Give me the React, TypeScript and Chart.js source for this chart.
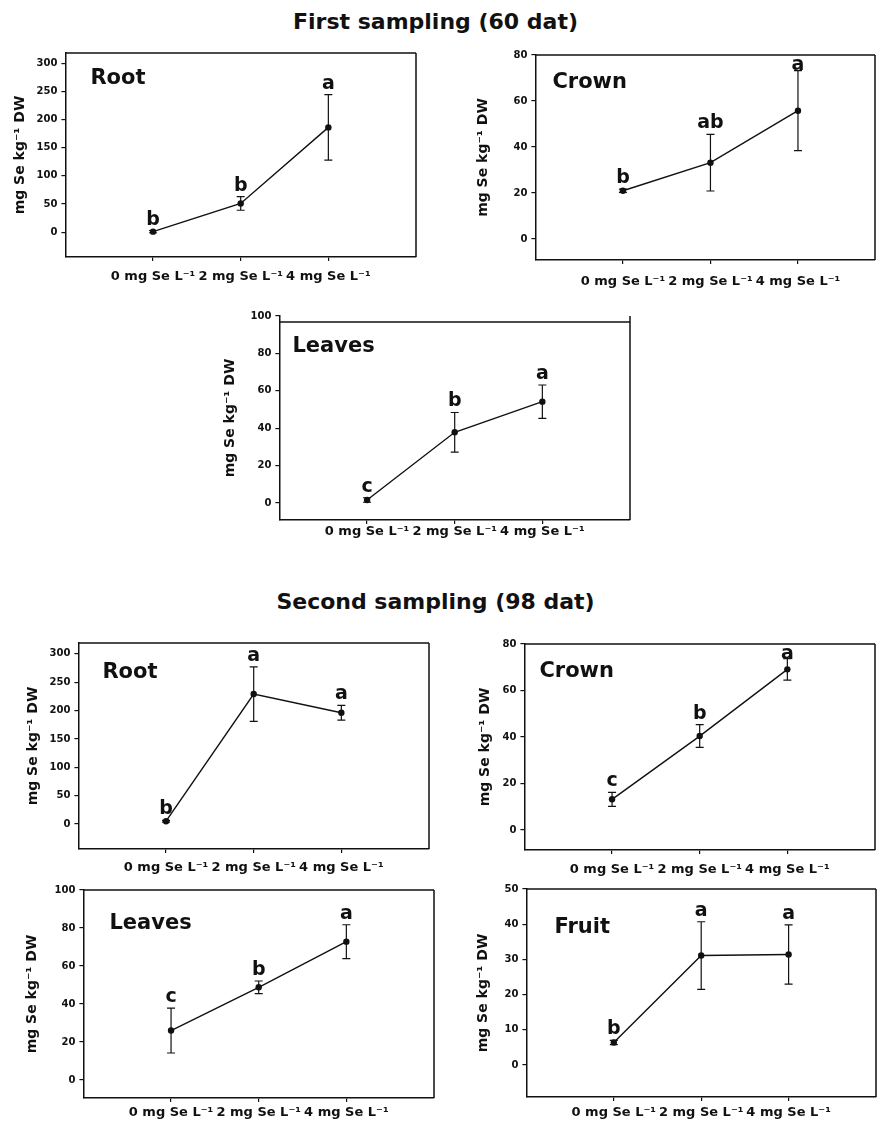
import React, { useEffect, useRef } from "react";
import { Chart, registerables } from "chart.js";

Chart.register(...registerables);

// ---------- data ----------
const doseValues = [0, 2, 4];
const doseLabels = ["0 mg Se L⁻¹", "2 mg Se L⁻¹", "4 mg Se L⁻¹"];
const yTitle = "mg Se kg⁻¹ DW";

const firstTitle = "First sampling (60 dat)";
const secondTitle = "Second sampling (98 dat)";

const ticks300 = [0, 50, 100, 150, 200, 250, 300];
const ticks80 = [0, 20, 40, 60, 80];
const ticks100 = [0, 20, 40, 60, 80, 100];
const ticks50 = [0, 10, 20, 30, 40, 50];

const root60 = [1, 51, 186];
const root60Err = [2, 12, 58];
const root60Letters = ["b", "b", "a"];

const crown60 = [21, 33.2, 55.8];
const crown60Err = [0.7, 12.3, 17.4];
const crown60Letters = ["b", "ab", "a"];

const leaves60 = [1.6, 37.8, 54.2];
const leaves60Err = [1.2, 10.6, 8.9];
const leaves60Letters = ["c", "b", "a"];

const root98 = [5, 229, 196];
const root98Err = [1.5, 48, 13];
const root98Letters = ["b", "a", "a"];

const crown98 = [13.2, 40.4, 69.1];
const crown98Err = [3, 4.9, 4.6];
const crown98Letters = ["c", "b", "a"];

const leaves98 = [26, 48.8, 72.8];
const leaves98Err = [11.8, 3.3, 8.9];
const leaves98Letters = ["c", "b", "a"];

const fruit98 = [6.4, 31.1, 31.4];
const fruit98Err = [0.6, 9.6, 8.4];
const fruit98Letters = ["b", "a", "a"];

// ---------- layout / styling ----------
const FONT = '"DejaVu Sans", "Liberation Sans", Arial, sans-serif';
const INK = "#111";
const PAD_TOP = 10;
const PAD_RIGHT = 4;
const X_AXIS_H = 40;

type PanelSpec = {
  name: string;
  values: number[];
  errors: number[];
  letters: string[];
  yTicks: number[];
  yMin: number;
  yMax: number;
  frameTopValue?: number;
  xMax: number;
  frame: { l: number; t: number; r: number; b: number };
  titleX: number;
  labelOffset: number;
  nameDx: number;
  nameDy: number;
};

const panels: PanelSpec[] = [
  {
    name: "Root", values: root60, errors: root60Err, letters: root60Letters,
    yTicks: ticks300, yMin: -44, yMax: 318, xMax: 6,
    frame: { l: 65, t: 53, r: 416, b: 257 }, titleX: 20, labelOffset: 20, nameDx: 25, nameDy: 31,
  },
  {
    name: "Crown", values: crown60, errors: crown60Err, letters: crown60Letters,
    yTicks: ticks80, yMin: -9.1, yMax: 80, xMax: 5.76,
    frame: { l: 535, t: 55, r: 875, b: 260 }, titleX: 483, labelOffset: 22, nameDx: 17, nameDy: 33,
  },
  {
    name: "Leaves", values: leaves60, errors: leaves60Err, letters: leaves60Letters,
    yTicks: ticks100, yMin: -9.1, yMax: 100, frameTopValue: 96.8, xMax: 6,
    frame: { l: 279, t: 316, r: 630, b: 520 }, titleX: 230, labelOffset: 12, nameDx: 13, nameDy: 36,
  },
  {
    name: "Root", values: root98, errors: root98Err, letters: root98Letters,
    yTicks: ticks300, yMin: -44, yMax: 319, xMax: 6,
    frame: { l: 78, t: 643, r: 429, b: 849 }, titleX: 33, labelOffset: 19, nameDx: 24, nameDy: 35,
  },
  {
    name: "Crown", values: crown98, errors: crown98Err, letters: crown98Letters,
    yTicks: ticks80, yMin: -8.6, yMax: 80, xMax: 6,
    frame: { l: 524, t: 644, r: 875, b: 850 }, titleX: 485, labelOffset: 20, nameDx: 15, nameDy: 33,
  },
  {
    name: "Leaves", values: leaves98, errors: leaves98Err, letters: leaves98Letters,
    yTicks: ticks100, yMin: -9.5, yMax: 100, xMax: 6,
    frame: { l: 83, t: 890, r: 434, b: 1098 }, titleX: 32, labelOffset: 15, nameDx: 26, nameDy: 39,
  },
  {
    name: "Fruit", values: fruit98, errors: fruit98Err, letters: fruit98Letters,
    yTicks: ticks50, yMin: -9.1, yMax: 50, xMax: 6,
    frame: { l: 526, t: 889, r: 876, b: 1097 }, titleX: 483, labelOffset: 16, nameDx: 28, nameDy: 44,
  },
];

function Panel({ spec }: { spec: PanelSpec }) {
  const ref = useRef<HTMLCanvasElement | null>(null);
  const titleFontSize = 14;
  const canvasLeft = spec.titleX - (titleFontSize * 1.2) / 2;
  const yAxisW = spec.frame.l - canvasLeft;
  const canvasTop = spec.frame.t - PAD_TOP;
  const width = yAxisW + (spec.frame.r - spec.frame.l) + PAD_RIGHT;
  const height = PAD_TOP + (spec.frame.b - spec.frame.t) + X_AXIS_H;

  useEffect(() => {
    if (!ref.current) return;
    const decor = {
      id: "decor",
      afterDatasetsDraw(chart: any) {
        const { ctx, chartArea, scales } = chart;
        const xs = scales.x;
        const ys = scales.y;
        ctx.save();
        // frame: right and top
        ctx.strokeStyle = INK;
        ctx.lineWidth = 1.5;
        const topPx = ys.getPixelForValue(spec.frameTopValue ?? spec.yMax);
        ctx.beginPath();
        ctx.moveTo(chartArea.right, chartArea.top);
        ctx.lineTo(chartArea.right, chartArea.bottom);
        ctx.moveTo(chartArea.left, topPx);
        ctx.lineTo(chartArea.right, topPx);
        ctx.stroke();
        // error bars + letters
        ctx.lineWidth = 1.2;
        ctx.fillStyle = INK;
        ctx.font = `bold 19px ${FONT}`;
        ctx.textAlign = "center";
        ctx.textBaseline = "alphabetic";
        spec.values.forEach((v, i) => {
          const px = xs.getPixelForValue(doseValues[i]);
          const hi = ys.getPixelForValue(v + spec.errors[i]);
          const lo = ys.getPixelForValue(v - spec.errors[i]);
          ctx.beginPath();
          ctx.moveTo(px, hi);
          ctx.lineTo(px, lo);
          ctx.moveTo(px - 4, hi);
          ctx.lineTo(px + 4, hi);
          ctx.moveTo(px - 4, lo);
          ctx.lineTo(px + 4, lo);
          ctx.stroke();
          const base = Math.max(hi - 6, chartArea.top + 15);
          ctx.fillText(spec.letters[i], px, base);
        });
        // panel name
        ctx.textAlign = "left";
        ctx.font = `bold 21px ${FONT}`;
        ctx.fillText(spec.name, chartArea.left + spec.nameDx, chartArea.top + spec.nameDy);
        ctx.restore();
      },
    };

    const chart = new Chart(ref.current, {
      type: "line",
      data: {
        datasets: [
          {
            data: spec.values.map((v, i) => ({ x: doseValues[i], y: v })),
            borderColor: INK,
            borderWidth: 1.4,
            pointRadius: 3.2,
            pointBackgroundColor: INK,
            pointBorderWidth: 0,
            tension: 0,
            clip: false as any,
          },
        ],
      },
      options: {
        animation: false,
        responsive: false,
        maintainAspectRatio: false,
        devicePixelRatio: 1,
        layout: { padding: { top: PAD_TOP, right: PAD_RIGHT, left: 0, bottom: 0 } },
        plugins: { legend: { display: false }, tooltip: { enabled: false } },
        scales: {
          x: {
            type: "linear",
            min: -2,
            max: spec.xMax,
            afterBuildTicks: (s: any) => {
              s.ticks = doseValues.map((v) => ({ value: v }));
            },
            afterFit: (s: any) => {
              s.height = X_AXIS_H;
            },
            grid: { display: true, drawOnChartArea: false, drawTicks: true, tickLength: 4, color: INK, lineWidth: 1.2 },
            border: { display: true, color: INK, width: 1.5 },
            ticks: {
              autoSkip: false,
              maxRotation: 0,
              minRotation: 0,
              padding: spec.labelOffset - 4 - (13 * 1.2) / 2,
              color: INK,
              font: { family: FONT, size: 13, weight: "bold" },
              callback: (_v: any, i: number) => doseLabels[i],
            },
          },
          y: {
            type: "linear",
            min: spec.yMin,
            max: spec.yMax,
            afterBuildTicks: (s: any) => {
              s.ticks = spec.yTicks.map((v) => ({ value: v }));
            },
            afterFit: (s: any) => {
              s.width = yAxisW;
            },
            grid: { display: true, drawOnChartArea: false, drawTicks: true, tickLength: 4, color: INK, lineWidth: 1.2 },
            border: { display: true, color: INK, width: 1.5 },
            ticks: {
              padding: 4,
              color: INK,
              font: { family: FONT, size: 10, weight: "bold" },
              callback: (v: any) => String(v),
            },
            title: {
              display: true,
              text: yTitle,
              color: INK,
              padding: { top: 0, bottom: 0 },
              font: { family: FONT, size: titleFontSize, weight: "bold" },
            },
          },
        },
      },
      plugins: [decor],
    } as any);
    return () => chart.destroy();
  }, []);

  return (
    <canvas
      ref={ref}
      width={width}
      height={height}
      style={{ position: "absolute", left: canvasLeft, top: canvasTop, width, height }}
    />
  );
}

const titleStyle: React.CSSProperties = {
  position: "absolute",
  left: -3,
  width: 877,
  textAlign: "center",
  fontFamily: FONT,
  fontWeight: "bold",
  fontSize: 22,
  lineHeight: "22px",
  color: INK,
  whiteSpace: "nowrap",
};

export default function App() {
  return (
    <div
      style={{
        position: "absolute",
        left: 0,
        top: 0,
        width: 877,
        height: 1121,
        overflow: "hidden",
        background: "#fff",
      }}
    >
      <div style={{ ...titleStyle, top: 11 }}>{firstTitle}</div>
      <div style={{ ...titleStyle, top: 591 }}>{secondTitle}</div>
      {panels.map((p, i) => (
        <Panel key={i} spec={p} />
      ))}
    </div>
  );
}
